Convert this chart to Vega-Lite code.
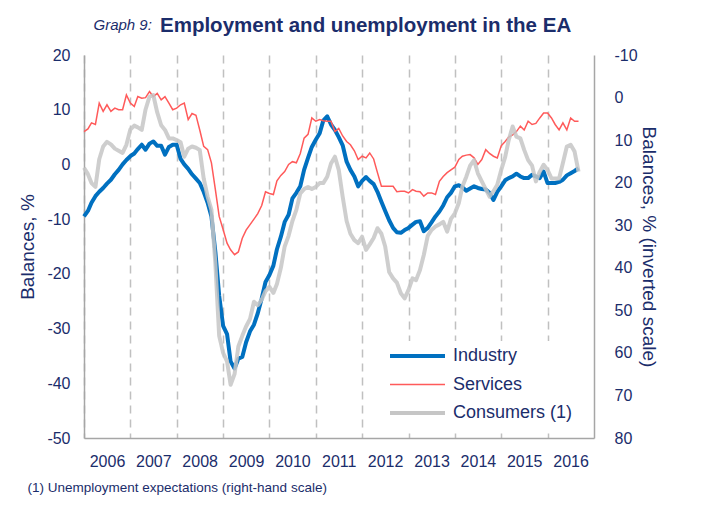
{
"$schema": "https://vega.github.io/schema/vega-lite/v6.json",
"width": 510, "height": 383,
"autosize": "none",
"padding": {"left": 84, "top": 55, "right": 115, "bottom": 84},
"background": "white",
"config": {
  "view": {"stroke": null},
  "font": "Liberation Sans",
  "axis": {"labelFont": "Liberation Sans", "labelFontSize": 16, "labelColor": "#1b2d6b", "titleFont": "Liberation Sans", "titleFontSize": 19, "titleFontWeight": "normal", "titleColor": "#1b2d6b", "domainColor": "#A6A6A6", "domainWidth": 1.5, "ticks": false, "tickSize": 0, "grid": false}
},
"title": {"text": "Employment and unemployment in the EA", "anchor": "start", "frame": "group", "dx": 76, "offset": -35, "baseline": "alphabetic", "fontSize": 20.5, "fontWeight": "bold", "color": "#1b2d6b", "font": "Liberation Sans"},
"data": {"values": [
{"date":"2006-01-01","Industry":-9.5,"Services":6.0,"Consumers":16.5},
{"date":"2006-02-01","Industry":-8.5,"Services":6.5,"Consumers":18.0},
{"date":"2006-03-01","Industry":-7.0,"Services":7.6,"Consumers":20.1},
{"date":"2006-04-01","Industry":-5.8,"Services":7.3,"Consumers":21.0},
{"date":"2006-05-01","Industry":-5.0,"Services":11.2,"Consumers":14.5},
{"date":"2006-06-01","Industry":-4.3,"Services":9.7,"Consumers":11.5},
{"date":"2006-07-01","Industry":-3.5,"Services":10.9,"Consumers":10.4},
{"date":"2006-08-01","Industry":-2.8,"Services":9.7,"Consumers":11.0},
{"date":"2006-09-01","Industry":-1.8,"Services":10.3,"Consumers":12.0},
{"date":"2006-10-01","Industry":-1.0,"Services":10.0,"Consumers":12.5},
{"date":"2006-11-01","Industry":0.0,"Services":10.0,"Consumers":13.0},
{"date":"2006-12-01","Industry":0.8,"Services":12.7,"Consumers":11.1},
{"date":"2007-01-01","Industry":1.5,"Services":11.2,"Consumers":7.5},
{"date":"2007-02-01","Industry":2.0,"Services":10.6,"Consumers":6.6},
{"date":"2007-03-01","Industry":2.8,"Services":12.4,"Consumers":7.0},
{"date":"2007-04-01","Industry":3.6,"Services":12.1,"Consumers":7.6},
{"date":"2007-05-01","Industry":2.7,"Services":12.2,"Consumers":2.8},
{"date":"2007-06-01","Industry":3.8,"Services":13.3,"Consumers":-0.2},
{"date":"2007-07-01","Industry":4.2,"Services":12.4,"Consumers":-0.6},
{"date":"2007-08-01","Industry":3.4,"Services":13.0,"Consumers":3.5},
{"date":"2007-09-01","Industry":3.4,"Services":11.8,"Consumers":6.5},
{"date":"2007-10-01","Industry":1.8,"Services":12.4,"Consumers":7.6},
{"date":"2007-11-01","Industry":3.2,"Services":11.2,"Consumers":9.6},
{"date":"2007-12-01","Industry":3.6,"Services":10.0,"Consumers":9.6},
{"date":"2008-01-01","Industry":3.6,"Services":10.3,"Consumers":10.0},
{"date":"2008-02-01","Industry":1.0,"Services":10.9,"Consumers":10.5},
{"date":"2008-03-01","Industry":0.0,"Services":11.2,"Consumers":13.9},
{"date":"2008-04-01","Industry":-0.8,"Services":8.2,"Consumers":12.0},
{"date":"2008-05-01","Industry":-1.8,"Services":9.3,"Consumers":11.5},
{"date":"2008-06-01","Industry":-2.6,"Services":9.0,"Consumers":11.8},
{"date":"2008-07-01","Industry":-3.4,"Services":6.3,"Consumers":12.3},
{"date":"2008-08-01","Industry":-5.0,"Services":3.3,"Consumers":19.0},
{"date":"2008-09-01","Industry":-7.0,"Services":2.7,"Consumers":23.3},
{"date":"2008-10-01","Industry":-9.5,"Services":0.3,"Consumers":26.4},
{"date":"2008-11-01","Industry":-16.0,"Services":-4.6,"Consumers":39.0},
{"date":"2008-12-01","Industry":-24.0,"Services":-9.5,"Consumers":56.0},
{"date":"2009-01-01","Industry":-29.5,"Services":-11.9,"Consumers":60.0},
{"date":"2009-02-01","Industry":-31.0,"Services":-14.4,"Consumers":62.0},
{"date":"2009-03-01","Industry":-36.0,"Services":-15.6,"Consumers":67.5},
{"date":"2009-04-01","Industry":-37.3,"Services":-16.5,"Consumers":65.0},
{"date":"2009-05-01","Industry":-35.5,"Services":-16.0,"Consumers":58.5},
{"date":"2009-06-01","Industry":-35.2,"Services":-13.5,"Consumers":56.0},
{"date":"2009-07-01","Industry":-32.5,"Services":-12.0,"Consumers":53.8},
{"date":"2009-08-01","Industry":-30.5,"Services":-11.0,"Consumers":52.0},
{"date":"2009-09-01","Industry":-29.3,"Services":-10.0,"Consumers":48.0},
{"date":"2009-10-01","Industry":-27.2,"Services":-9.0,"Consumers":48.8},
{"date":"2009-11-01","Industry":-24.5,"Services":-7.5,"Consumers":47.5},
{"date":"2009-12-01","Industry":-21.5,"Services":-5.0,"Consumers":45.5},
{"date":"2010-01-01","Industry":-20.2,"Services":-5.3,"Consumers":44.5},
{"date":"2010-02-01","Industry":-18.5,"Services":-5.5,"Consumers":45.9},
{"date":"2010-03-01","Industry":-15.5,"Services":-3.0,"Consumers":43.8},
{"date":"2010-04-01","Industry":-13.2,"Services":-2.0,"Consumers":40.0},
{"date":"2010-05-01","Industry":-10.5,"Services":-1.3,"Consumers":35.0},
{"date":"2010-06-01","Industry":-9.2,"Services":0.0,"Consumers":32.5},
{"date":"2010-07-01","Industry":-6.2,"Services":0.5,"Consumers":29.0},
{"date":"2010-08-01","Industry":-5.2,"Services":0.3,"Consumers":26.4},
{"date":"2010-09-01","Industry":-4.0,"Services":2.0,"Consumers":22.5},
{"date":"2010-10-01","Industry":-1.0,"Services":4.8,"Consumers":21.5},
{"date":"2010-11-01","Industry":1.2,"Services":5.5,"Consumers":21.0},
{"date":"2010-12-01","Industry":3.2,"Services":8.5,"Consumers":21.5},
{"date":"2011-01-01","Industry":4.5,"Services":7.9,"Consumers":21.0},
{"date":"2011-02-01","Industry":5.7,"Services":8.2,"Consumers":20.1},
{"date":"2011-03-01","Industry":8.0,"Services":8.0,"Consumers":20.1},
{"date":"2011-04-01","Industry":8.8,"Services":7.9,"Consumers":18.6},
{"date":"2011-05-01","Industry":7.3,"Services":7.9,"Consumers":15.5},
{"date":"2011-06-01","Industry":6.3,"Services":6.0,"Consumers":13.9},
{"date":"2011-07-01","Industry":5.0,"Services":6.6,"Consumers":17.0},
{"date":"2011-08-01","Industry":3.5,"Services":5.2,"Consumers":23.3},
{"date":"2011-09-01","Industry":0.5,"Services":4.2,"Consumers":29.0},
{"date":"2011-10-01","Industry":-1.0,"Services":3.6,"Consumers":32.0},
{"date":"2011-11-01","Industry":-2.2,"Services":2.5,"Consumers":33.5},
{"date":"2011-12-01","Industry":-4.0,"Services":0.9,"Consumers":34.2},
{"date":"2012-01-01","Industry":-3.0,"Services":1.5,"Consumers":32.7},
{"date":"2012-02-01","Industry":-2.3,"Services":1.2,"Consumers":35.8},
{"date":"2012-03-01","Industry":-3.0,"Services":2.1,"Consumers":34.5},
{"date":"2012-04-01","Industry":-3.6,"Services":1.0,"Consumers":33.0},
{"date":"2012-05-01","Industry":-5.0,"Services":-1.5,"Consumers":30.7},
{"date":"2012-06-01","Industry":-6.8,"Services":-4.0,"Consumers":32.0},
{"date":"2012-07-01","Industry":-8.5,"Services":-4.0,"Consumers":35.0},
{"date":"2012-08-01","Industry":-10.2,"Services":-4.0,"Consumers":41.0},
{"date":"2012-09-01","Industry":-11.6,"Services":-4.0,"Consumers":42.5},
{"date":"2012-10-01","Industry":-12.4,"Services":-5.0,"Consumers":43.5},
{"date":"2012-11-01","Industry":-12.5,"Services":-4.9,"Consumers":46.0},
{"date":"2012-12-01","Industry":-12.0,"Services":-4.9,"Consumers":47.2},
{"date":"2013-01-01","Industry":-11.6,"Services":-5.2,"Consumers":45.2},
{"date":"2013-02-01","Industry":-11.0,"Services":-4.6,"Consumers":42.5},
{"date":"2013-03-01","Industry":-10.5,"Services":-4.9,"Consumers":42.9},
{"date":"2013-04-01","Industry":-10.4,"Services":-5.0,"Consumers":40.5},
{"date":"2013-05-01","Industry":-12.2,"Services":-5.8,"Consumers":37.0},
{"date":"2013-06-01","Industry":-11.6,"Services":-5.2,"Consumers":32.5},
{"date":"2013-07-01","Industry":-10.6,"Services":-5.2,"Consumers":31.1},
{"date":"2013-08-01","Industry":-9.5,"Services":-5.5,"Consumers":30.3},
{"date":"2013-09-01","Industry":-8.6,"Services":-3.1,"Consumers":29.8},
{"date":"2013-10-01","Industry":-7.5,"Services":-2.2,"Consumers":29.2},
{"date":"2013-11-01","Industry":-6.0,"Services":-1.5,"Consumers":31.5},
{"date":"2013-12-01","Industry":-5.2,"Services":-1.0,"Consumers":28.5},
{"date":"2014-01-01","Industry":-4.0,"Services":-0.5,"Consumers":27.2},
{"date":"2014-02-01","Industry":-3.8,"Services":0.9,"Consumers":24.8},
{"date":"2014-03-01","Industry":-4.2,"Services":1.5,"Consumers":20.9},
{"date":"2014-04-01","Industry":-4.8,"Services":1.7,"Consumers":18.6},
{"date":"2014-05-01","Industry":-4.4,"Services":1.8,"Consumers":16.0},
{"date":"2014-06-01","Industry":-4.0,"Services":1.2,"Consumers":14.7},
{"date":"2014-07-01","Industry":-4.3,"Services":0.0,"Consumers":17.8},
{"date":"2014-08-01","Industry":-4.5,"Services":0.9,"Consumers":19.7},
{"date":"2014-09-01","Industry":-4.6,"Services":2.7,"Consumers":21.5},
{"date":"2014-10-01","Industry":-5.2,"Services":2.0,"Consumers":23.3},
{"date":"2014-11-01","Industry":-6.5,"Services":1.5,"Consumers":22.0},
{"date":"2014-12-01","Industry":-5.0,"Services":1.2,"Consumers":20.5},
{"date":"2015-01-01","Industry":-4.0,"Services":3.4,"Consumers":17.0},
{"date":"2015-02-01","Industry":-2.9,"Services":4.2,"Consumers":14.0},
{"date":"2015-03-01","Industry":-2.5,"Services":5.0,"Consumers":10.0},
{"date":"2015-04-01","Industry":-2.2,"Services":5.4,"Consumers":6.8},
{"date":"2015-05-01","Industry":-1.7,"Services":6.0,"Consumers":9.2},
{"date":"2015-06-01","Industry":-2.2,"Services":7.0,"Consumers":9.6},
{"date":"2015-07-01","Industry":-2.5,"Services":6.3,"Consumers":12.3},
{"date":"2015-08-01","Industry":-2.5,"Services":7.9,"Consumers":14.7},
{"date":"2015-09-01","Industry":-1.9,"Services":7.3,"Consumers":16.0},
{"date":"2015-10-01","Industry":-2.2,"Services":7.5,"Consumers":19.7},
{"date":"2015-11-01","Industry":-2.5,"Services":8.5,"Consumers":17.4},
{"date":"2015-12-01","Industry":-1.3,"Services":9.4,"Consumers":15.8},
{"date":"2016-01-01","Industry":-3.4,"Services":9.4,"Consumers":17.0},
{"date":"2016-02-01","Industry":-3.4,"Services":8.5,"Consumers":19.0},
{"date":"2016-03-01","Industry":-3.4,"Services":7.3,"Consumers":19.0},
{"date":"2016-04-01","Industry":-3.2,"Services":6.3,"Consumers":19.0},
{"date":"2016-05-01","Industry":-2.8,"Services":7.6,"Consumers":15.4},
{"date":"2016-06-01","Industry":-2.0,"Services":6.3,"Consumers":11.5},
{"date":"2016-07-01","Industry":-1.6,"Services":8.5,"Consumers":11.1},
{"date":"2016-08-01","Industry":-1.2,"Services":7.9,"Consumers":12.7},
{"date":"2016-09-01","Industry":-0.7,"Services":7.9,"Consumers":17.4}
]},
"layer": [
  {"layer": [
    {"transform": [{"fold": ["Industry"], "as": ["series", "value"]}],
     "mark": {"type": "line", "strokeWidth": 4, "strokeJoin": "round"},
     "encoding": {
       "x": {"field": "date", "type": "temporal",
             "scale": {"type": "utc", "domain": [{"year": 2006, "month": 1, "date": 1, "utc": true}, {"year": 2017, "month": 1, "date": 1, "utc": true}]},
             "axis": {"orient": "bottom", "values": [{"year": 2006, "utc": true}, {"year": 2007, "utc": true}, {"year": 2008, "utc": true}, {"year": 2009, "utc": true}, {"year": 2010, "utc": true}, {"year": 2011, "utc": true}, {"year": 2012, "utc": true}, {"year": 2013, "utc": true}, {"year": 2014, "utc": true}, {"year": 2015, "utc": true}, {"year": 2016, "utc": true}],
                      "format": "%Y", "labelOffset": 23, "labelPadding": 15, "labelFlush": false, "labelOverlap": false, "labelBound": false,
                      "grid": true, "gridDash": [8, 6], "gridColor": "#C0C0C0", "gridWidth": 1.5,
                      "title": "(1) Unemployment expectations (right-hand scale)", "titleFontSize": 13.5, "titleX": -57, "titleY": 53, "titleAlign": "left", "titleAnchor": "start", "titleBaseline": "alphabetic"}},
       "y": {"field": "value", "type": "quantitative",
             "scale": {"domain": [-50, 20], "nice": false, "zero": false},
             "axis": {"orient": "left", "values": [-50, -40, -30, -20, -10, 0, 10, 20], "labelExpr": "replace(datum.label, '\u2212', '-')", "title": "Balances, %", "labelPadding": 14, "titlePadding": 9}},
       "color": {"field": "series", "type": "nominal",
                 "scale": {"domain": ["Industry", "Services", "Consumers"], "range": ["#0070C0", "#FF5A5A", "#C6C6C6"]},
                 "legend": {"orient": "none", "legendX": 302, "legendY": 286, "title": null, "fillColor": "white", "padding": 6,
                            "symbolType": "M-1,0H4", "symbolSize": 484, "symbolStrokeWidth": 4, "symbolFillColor": "transparent",
                            "labelFont": "Liberation Sans", "labelFontSize": 18, "labelColor": "#1b2d6b", "labelOffset": 43, "rowPadding": 10.5,
                            "labelExpr": "datum.label === 'Consumers' ? 'Consumers (1)' : datum.label",
                            "encode": {"symbols": {"update": {"strokeWidth": {"signal": "datum.value === 'Services' ? 1.5 : 4"}}}}}}
     }},
    {"transform": [{"fold": ["Services"], "as": ["series", "value"]}],
     "mark": {"type": "line", "strokeWidth": 1.5},
     "encoding": {
       "x": {"field": "date", "type": "temporal"},
       "y": {"field": "value", "type": "quantitative"},
       "color": {"field": "series", "type": "nominal"}
     }}
  ]},
  {"transform": [{"fold": ["Consumers"], "as": ["series", "value"]}],
   "mark": {"type": "line", "strokeWidth": 4, "strokeJoin": "round", "opacity": 0.85},
   "encoding": {
     "x": {"field": "date", "type": "temporal",
           "scale": {"type": "utc", "domain": [{"year": 2006, "month": 1, "date": 1, "utc": true}, {"year": 2017, "month": 1, "date": 1, "utc": true}]},
           "axis": {"orient": "top", "labels": false, "ticks": false, "domain": false, "grid": false,
                    "title": "Graph 9:", "titleFontStyle": "italic", "titleFontWeight": "normal", "titleFontSize": 15, "titleX": 9, "titleY": -26, "titleAlign": "left", "titleAnchor": "start", "titleBaseline": "alphabetic"}},
     "y": {"field": "value", "type": "quantitative",
           "scale": {"domain": [-10, 80], "reverse": true, "nice": false, "zero": false},
           "axis": {"orient": "right", "values": [-10, 0, 10, 20, 30, 40, 50, 60, 70, 80], "labelExpr": "replace(datum.label, '\u2212', '-')", "title": "Balances, % (inverted scale)", "labelPadding": 20, "titlePadding": 1}},
     "color": {"field": "series", "type": "nominal"}
   }}
],
"resolve": {"scale": {"y": "independent", "x": "independent"}, "axis": {"x": "independent", "y": "independent"}}
}
